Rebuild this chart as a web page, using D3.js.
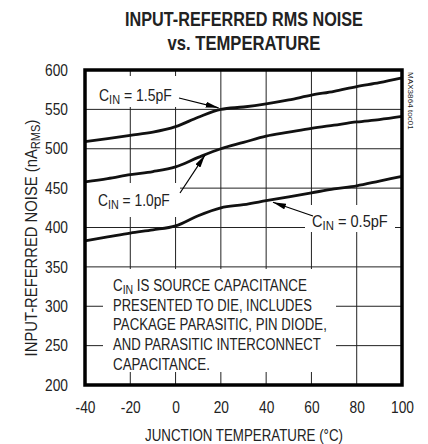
<!DOCTYPE html>
<html>
<head>
<meta charset="utf-8">
<script src="https://cdn.jsdelivr.net/npm/d3@7"></script>
<style>
  body { margin: 0; background: #fff; }
  svg text { font-family: "Liberation Sans", Arial, sans-serif; fill: #222; }
</style>
</head>
<body>
<div id="chart"></div>
<script>
// junction temperature (°C)
const temps = [-40, -30, -20, -10, 0, 10, 20, 30, 40, 50, 60, 70, 80, 90, 100];
// input-referred rms noise (nA RMS) per source capacitance
const noise15 = [509, 513, 517, 521, 528, 540, 550, 553, 557, 562, 568, 573, 579, 584, 590];
const noise10 = [458, 462, 467, 471, 477, 489, 500, 508, 516, 521, 526, 530, 534, 537, 541];
const noise05 = [383, 388, 393, 397, 402, 415, 425, 429, 434, 439, 444, 449, 453, 459, 465];
const xTicks = [-40, -20, 0, 20, 40, 60, 80, 100];
const yTicks = [200, 250, 300, 350, 400, 450, 500, 550, 600];
const noteLines = ['IS SOURCE CAPACITANCE', 'PRESENTED TO DIE, INCLUDES',
  'PACKAGE PARASITIC, PIN DIODE,', 'AND PARASITIC INTERCONNECT', 'CAPACITANCE.'];

const margin = {top: 70, right: 26, bottom: 59, left: 85};
const W = 428, H = 444;
const width = W - margin.left - margin.right;
const height = H - margin.top - margin.bottom;

const svg = d3.select('#chart').append('svg')
  .attr('width', W).attr('height', H);

// the original uses a condensed face; squeeze regular text horizontally
function squeeze(t, k, extra) {
  const x0 = +t.attr('x') || 0, y0 = +t.attr('y') || 0;
  t.attr('x', 0).attr('y', 0)
    .attr('transform', 'translate(' + x0 + ',' + y0 + ')' + (extra || '') + ' scale(' + k + ',1)');
}
function fit(t, w, extra) {
  squeeze(t, w / t.node().getBBox().width, extra);
}

const defs = svg.append('defs');
defs.append('marker')
  .attr('id', 'arrow')
  .attr('viewBox', '0 0 13 6')
  .attr('refX', 13).attr('refY', 3)
  .attr('markerWidth', 13).attr('markerHeight', 6)
  .attr('markerUnits', 'userSpaceOnUse')
  .attr('orient', 'auto')
  .append('path').attr('d', 'M0,0 L13,3 L0,6 Z').attr('fill', '#000');

const g = svg.append('g')
  .attr('transform', 'translate(' + margin.left + ',' + margin.top + ')');

const x = d3.scaleLinear().domain([-40, 100]).range([0, width]);
const y = d3.scaleLinear().domain([200, 600]).range([height, 0]);

// grid
g.append('g').selectAll('line')
  .data(xTicks.slice(1, -1)).enter().append('line')
  .attr('x1', d => x(d)).attr('x2', d => x(d))
  .attr('y1', 0).attr('y2', height)
  .attr('stroke', '#222').attr('stroke-width', 1);
g.append('g').selectAll('line')
  .data(yTicks.slice(1, -1)).enter().append('line')
  .attr('x1', 0).attr('x2', width)
  .attr('y1', d => y(d)).attr('y2', d => y(d))
  .attr('stroke', '#222').attr('stroke-width', 1);

// white patches behind the labels and the note
const patches = [
  [8, 6, 92, 31],     // 1.5pF label
  [1, 113, 94, 34],   // 1.0pF label
  [220, 135, 90, 27], // 0.5pF label
  [18, 199, 233, 103] // note
];
g.append('g').selectAll('rect')
  .data(patches).enter().append('rect')
  .attr('x', d => d[0]).attr('y', d => d[1])
  .attr('width', d => d[2]).attr('height', d => d[3])
  .attr('fill', '#fff');

// curves
const line = d3.line()
  .x((d, i) => x(temps[i]))
  .y(d => y(d))
  .curve(d3.curveMonotoneX);
g.selectAll('path.curve')
  .data([noise15, noise10, noise05]).enter().append('path')
  .attr('class', 'curve')
  .attr('d', line)
  .attr('fill', 'none')
  .attr('stroke', '#111')
  .attr('stroke-width', 2.8);

// frame
g.append('rect')
  .attr('x', 0).attr('y', 0)
  .attr('width', width).attr('height', height)
  .attr('fill', 'none').attr('stroke', '#000').attr('stroke-width', 3.5);

// axes
const xAxis = g.append('g')
  .attr('transform', 'translate(0,' + height + ')')
  .call(d3.axisBottom(x).tickValues(xTicks).tickFormat(d => String(d)).tickSize(0).tickPadding(17));
const yAxis = g.append('g')
  .call(d3.axisLeft(y).tickValues(yTicks).tickFormat(d => String(d)).tickSize(0).tickPadding(17));
[xAxis, yAxis].forEach(a => {
  a.select('.domain').remove();
  a.selectAll('text').style('font-size', '16px').attr('fill', '#222')
    .each(function () { squeeze(d3.select(this), 0.86); });
});

// curve labels with subscript
function cinLabel(px, py, value, w) {
  const t = g.append('text').attr('x', px).attr('y', py).style('font-size', '16px');
  t.append('tspan').text('C');
  t.append('tspan').text('IN').attr('dy', 3).style('font-size', '12.5px');
  t.append('tspan').text(' = ' + value).attr('dy', -3);
  fit(t, w);
}
cinLabel(14, 31, '1.5pF', 73);
cinLabel(13, 136, '1.0pF', 72);
cinLabel(227, 157, '0.5pF', 76);

// arrows
const arrows = [
  [[94, 28], [x(19), y(552)]],
  [[95, 123], [x(13), y(492)]],
  [[228, 146], [x(43), y(432)]]
];
g.selectAll('line.arrow')
  .data(arrows).enter().append('line')
  .attr('class', 'arrow')
  .attr('x1', d => d[0][0]).attr('y1', d => d[0][1])
  .attr('x2', d => d[1][0]).attr('y2', d => d[1][1])
  .attr('stroke', '#000').attr('stroke-width', 1.2)
  .attr('marker-end', 'url(#arrow)');

// note
const noteW = [194, 199, 214, 208, 97];
noteLines.forEach((s, i) => {
  const t = g.append('text').attr('x', 28).attr('y', 221 + i * 19.7).style('font-size', '16.5px');
  if (i === 0) {
    t.append('tspan').text('C');
    t.append('tspan').text('IN').attr('dy', 3).style('font-size', '13px');
    t.append('tspan').text(' ' + s).attr('dy', -3);
  } else {
    t.text(s);
  }
  fit(t, noteW[i]);
});

// titles
const title1 = svg.append('text')
  .attr('x', 244).attr('y', 26)
  .attr('text-anchor', 'middle')
  .style('font-size', '21px').style('font-weight', 'bold').attr('fill', '#111')
  .text('INPUT-REFERRED RMS NOISE');
fit(title1, 238);
const title2 = svg.append('text')
  .attr('x', 244).attr('y', 50)
  .attr('text-anchor', 'middle')
  .style('font-size', '21px').style('font-weight', 'bold').attr('fill', '#111')
  .text('vs. TEMPERATURE');
fit(title2, 153);

const xTitle = svg.append('text')
  .attr('x', 244).attr('y', 441)
  .attr('text-anchor', 'middle')
  .style('font-size', '16px')
  .text('JUNCTION TEMPERATURE (°C)');
fit(xTitle, 198);

const yTitle = svg.append('text')
  .attr('x', 37).attr('y', 238)
  .attr('text-anchor', 'middle')
  .style('font-size', '16px');
yTitle.append('tspan').text('INPUT-REFERRED NOISE (nA');
yTitle.append('tspan').text('RMS').attr('dy', 3).style('font-size', '12px');
yTitle.append('tspan').text(')').attr('dy', -3);
fit(yTitle, 237, ' rotate(-90)');

const tag = svg.append('text')
  .attr('x', 408).attr('y', 72)
  .style('font-size', '7px')
  .text('MAX3864 toc01');
fit(tag, 58, ' rotate(90)');
</script>
</body>
</html>
